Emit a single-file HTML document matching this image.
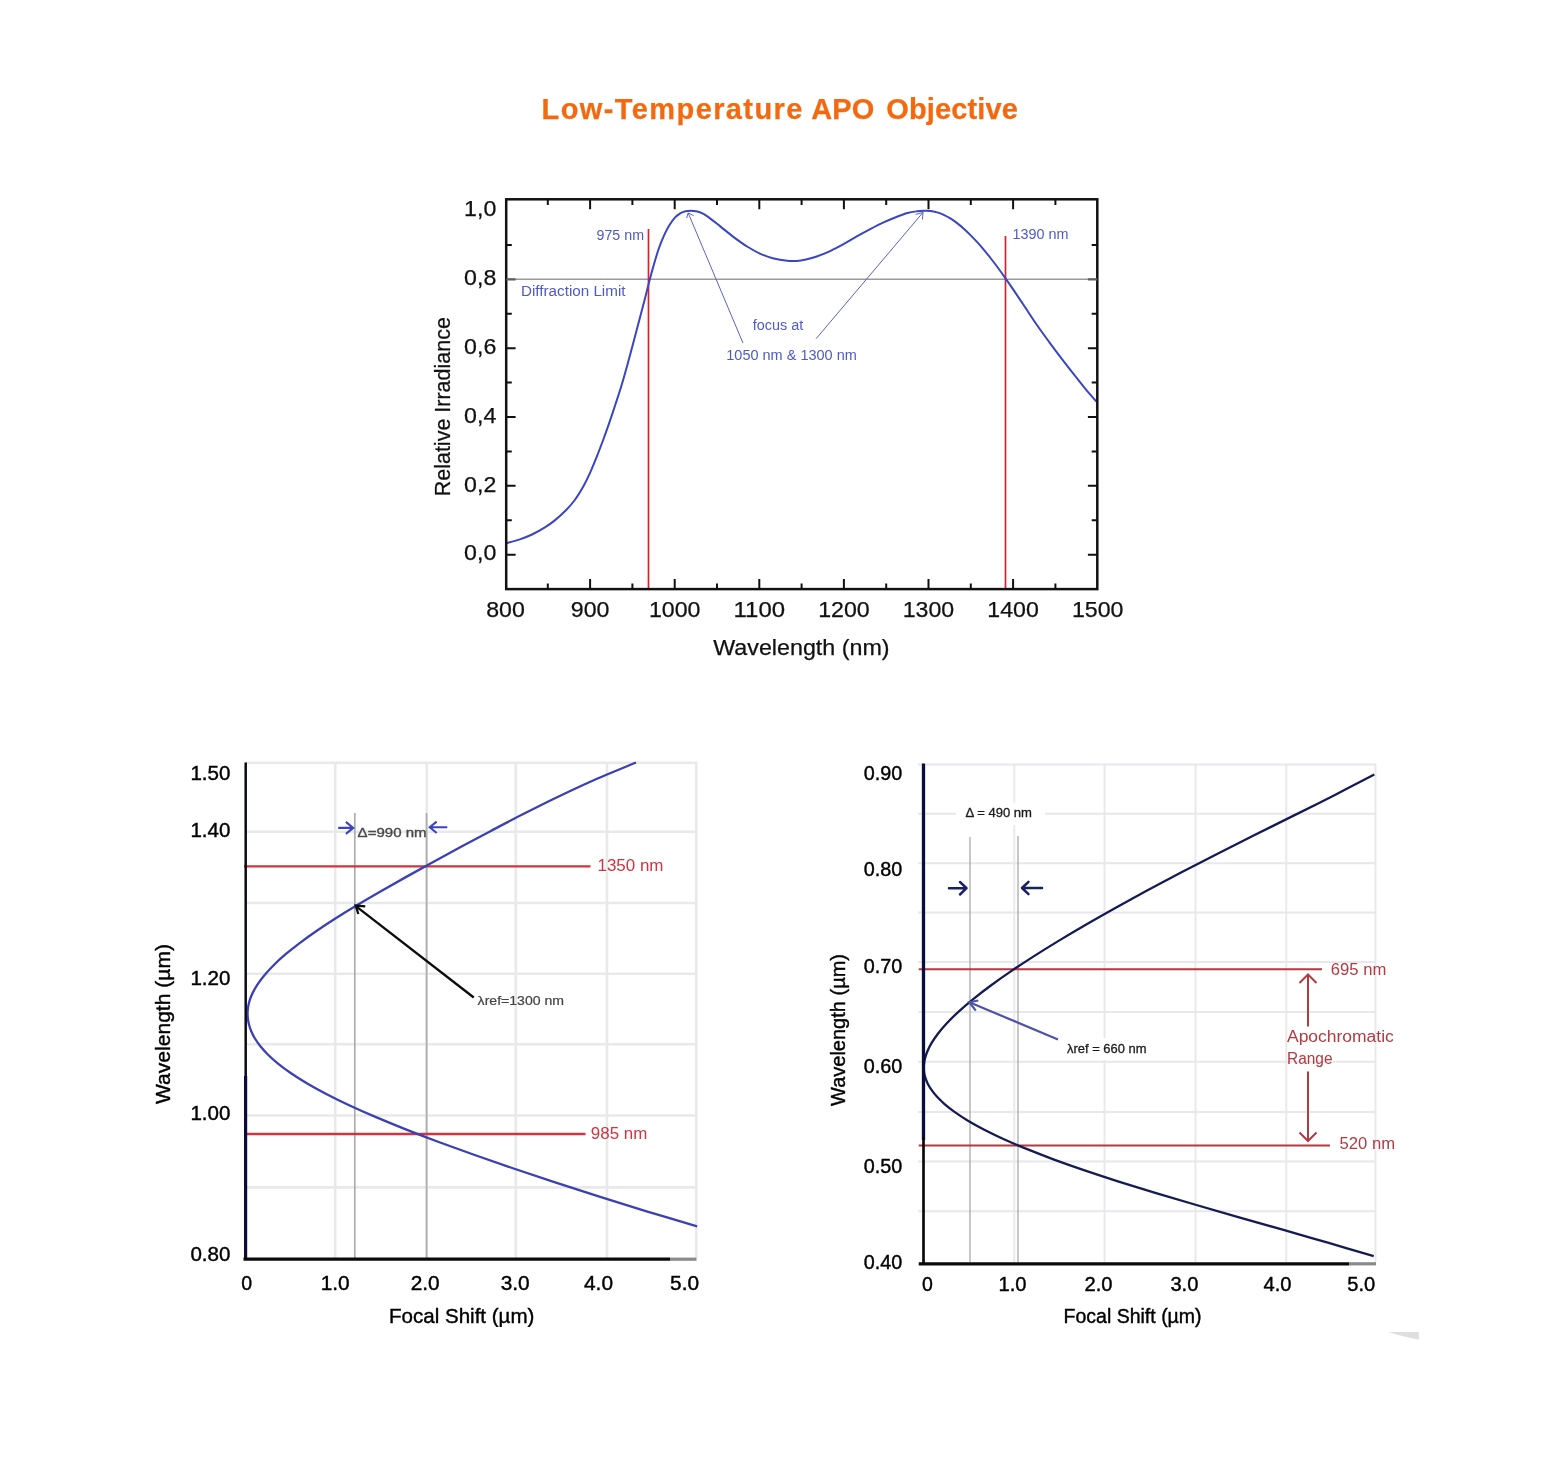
<!DOCTYPE html>
<html lang="en">
<head>
<meta charset="utf-8">
<title>Low-Temperature APO Objective</title>
<style>
html,body{margin:0;padding:0;background:#fff;}
body{width:1560px;height:1459px;position:relative;overflow:hidden;font-family:'Liberation Sans',sans-serif;}
h1.title{position:absolute;left:0;top:87px;width:1560px;height:44px;margin:0;font-size:29px;line-height:44px;font-weight:bold;color:#f4690f;white-space:nowrap;-webkit-text-stroke:0.25px #f4690f;}
h1.title span{position:absolute;top:0;}
h1.title .w1{left:541.6px;letter-spacing:1.4px;}
h1.title .w2{left:811.2px;letter-spacing:0.15px;}
h1.title .w3{left:886.3px;letter-spacing:0.12px;}
svg{position:absolute;display:block;overflow:visible;}
svg text{font-family:'Liberation Sans',sans-serif;}
.ax{font-size:21.3px;fill:#111;stroke:#111;stroke-width:0.25px;}
.bl{fill:#4f5ac4;font-size:13.8px;}
.cal{font-size:19.5px;fill:#000;stroke:#000;stroke-width:0.4px;}
svg.soft{filter:blur(0.5px);}
</style>
</head>
<body>
<h1 class="title"><span class="w1">Low-Temperature </span><span class="w2">APO </span><span class="w3">Objective</span></h1>

<svg id="chart-top" style="left:400px;top:170px" width="760" height="510" viewBox="400 170 760 510">
<line x1="506.2" y1="279.3" x2="1097.3" y2="279.3" stroke="#9a9a9a" stroke-width="1.6"/>
<line x1="648.5" y1="229" x2="648.5" y2="589.1" stroke="#d8222b" stroke-width="1.7"/>
<line x1="1005.5" y1="236" x2="1005.5" y2="589.1" stroke="#d8222b" stroke-width="1.7"/>
<path d="M506.40 543.10 C508.53 542.52 514.93 541.03 519.20 539.60 C523.48 538.17 527.77 536.53 532.05 534.50 C536.33 532.47 541.06 529.80 544.90 527.40 C548.74 525.00 551.68 522.87 555.10 520.10 C558.52 517.33 562.18 514.07 565.40 510.80 C568.62 507.53 571.42 504.57 574.40 500.50 C577.38 496.43 580.75 490.88 583.30 486.40 C585.85 481.92 587.55 478.30 589.70 473.60 C591.85 468.90 594.05 463.55 596.20 458.20 C598.35 452.85 600.47 447.27 602.60 441.50 C604.73 435.73 606.87 429.77 609.00 423.60 C611.13 417.43 613.32 410.85 615.40 404.50 C617.48 398.15 619.48 392.17 621.50 385.50 C623.52 378.83 625.52 371.67 627.50 364.50 C629.48 357.33 631.30 350.42 633.40 342.50 C635.50 334.58 638.08 324.65 640.10 317.00 C642.12 309.35 644.02 302.35 645.50 296.60 C646.98 290.85 647.67 287.62 649.00 282.50 C650.33 277.38 651.87 271.57 653.50 265.90 C655.13 260.23 657.02 253.63 658.80 248.50 C660.58 243.37 662.42 239.00 664.20 235.10 C665.98 231.20 667.72 228.00 669.50 225.10 C671.28 222.20 673.12 219.65 674.90 217.70 C676.68 215.75 678.42 214.47 680.20 213.40 C681.98 212.33 683.82 211.73 685.60 211.30 C687.38 210.87 689.12 210.80 690.90 210.80 C692.68 210.80 694.30 210.82 696.30 211.30 C698.30 211.78 700.45 212.40 702.90 213.70 C705.35 215.00 708.10 216.98 711.00 219.10 C713.90 221.22 716.52 223.40 720.30 226.40 C724.08 229.40 729.23 233.75 733.70 237.10 C738.17 240.45 742.65 243.72 747.10 246.50 C751.55 249.28 755.95 251.80 760.40 253.80 C764.85 255.80 769.33 257.33 773.80 258.50 C778.27 259.67 783.38 260.40 787.20 260.80 C791.02 261.20 793.57 261.13 796.70 260.90 C799.83 260.67 802.67 260.13 806.00 259.40 C809.33 258.67 812.68 257.88 816.70 256.50 C820.72 255.12 825.63 253.15 830.10 251.10 C834.57 249.05 839.05 246.65 843.50 244.20 C847.95 241.75 852.35 238.92 856.80 236.40 C861.25 233.88 865.73 231.43 870.20 229.10 C874.67 226.77 879.13 224.47 883.60 222.40 C888.07 220.33 893.00 218.27 897.00 216.70 C901.00 215.13 904.27 213.90 907.60 213.00 C910.93 212.10 914.32 211.67 917.00 211.30 C919.68 210.93 921.47 210.85 923.70 210.80 C925.93 210.75 928.17 210.73 930.40 211.00 C932.63 211.27 934.88 211.77 937.10 212.40 C939.32 213.03 941.48 213.80 943.70 214.80 C945.92 215.80 948.17 217.02 950.40 218.40 C952.63 219.78 954.87 221.38 957.10 223.10 C959.33 224.82 961.57 226.70 963.80 228.70 C966.03 230.70 968.27 232.85 970.50 235.10 C972.73 237.35 974.97 239.75 977.20 242.20 C979.43 244.65 981.68 247.17 983.90 249.80 C986.12 252.43 988.32 255.22 990.50 258.00 C992.68 260.78 994.50 263.12 997.00 266.50 C999.50 269.88 1002.67 274.28 1005.50 278.30 C1008.33 282.32 1010.78 285.85 1014.00 290.60 C1017.22 295.35 1020.95 301.02 1024.80 306.80 C1028.65 312.58 1033.00 319.38 1037.10 325.30 C1041.20 331.22 1045.28 336.72 1049.40 342.30 C1053.52 347.88 1057.68 353.42 1061.80 358.80 C1065.92 364.18 1070.00 369.38 1074.10 374.60 C1078.20 379.82 1082.67 385.60 1086.40 390.10 C1090.13 394.60 1094.82 399.68 1096.50 401.60" fill="none" stroke="#3a45c2" stroke-width="2" stroke-linejoin="round"/>
<g stroke="#5a63c4" stroke-width="1" fill="none">
<line x1="743" y1="343.1" x2="688.2" y2="213"/><path d="M686.7 218 L688.2 213 L693.6 215.6"/>
<line x1="816.1" y1="338.7" x2="923" y2="212.4"/><path d="M915.7 214.4 L923 212.4 L922.4 219.5"/>
</g>
<rect x="506.2" y="199.3" width="591.1" height="389.8" fill="none" stroke="#111" stroke-width="2.5"/>
<path d="M547.80 199.3v5.6 M547.80 589.1v-5.6 M590.10 199.3v10 M590.10 589.1v-10 M632.40 199.3v5.6 M632.40 589.1v-5.6 M674.70 199.3v10 M674.70 589.1v-10 M717.00 199.3v5.6 M717.00 589.1v-5.6 M759.30 199.3v10 M759.30 589.1v-10 M801.60 199.3v5.6 M801.60 589.1v-5.6 M843.90 199.3v10 M843.90 589.1v-10 M886.20 199.3v5.6 M886.20 589.1v-5.6 M928.50 199.3v10 M928.50 589.1v-10 M970.80 199.3v5.6 M970.80 589.1v-5.6 M1013.10 199.3v10 M1013.10 589.1v-10 M1055.40 199.3v5.6 M1055.40 589.1v-5.6 M506.2 554.70h9.4 M1097.3 554.70h-9.4 M506.2 520.28h5.6 M1097.3 520.28h-5.6 M506.2 485.85h9.4 M1097.3 485.85h-9.4 M506.2 451.43h5.6 M1097.3 451.43h-5.6 M506.2 417.00h9.4 M1097.3 417.00h-9.4 M506.2 382.58h5.6 M1097.3 382.58h-5.6 M506.2 348.15h9.4 M1097.3 348.15h-9.4 M506.2 313.73h5.6 M1097.3 313.73h-5.6 M506.2 244.88h5.6 M1097.3 244.88h-5.6" stroke="#111" stroke-width="2" fill="none"/>
<path d="M506.2 279.3h9.4 M1097.3 279.3h-9.4" stroke="#5e5e5e" stroke-width="2.2" fill="none"/>
<g class="ax" text-anchor="end">
<text x="496.3" y="560.4" textLength="32.2" lengthAdjust="spacingAndGlyphs">0,0</text>
<text x="496.3" y="491.6" textLength="32.2" lengthAdjust="spacingAndGlyphs">0,2</text>
<text x="496.3" y="422.7" textLength="32.2" lengthAdjust="spacingAndGlyphs">0,4</text>
<text x="496.3" y="353.8" textLength="32.2" lengthAdjust="spacingAndGlyphs">0,6</text>
<text x="496.3" y="285.0" textLength="32.2" lengthAdjust="spacingAndGlyphs">0,8</text>
<text x="496.3" y="216.2" textLength="32.2" lengthAdjust="spacingAndGlyphs">1,0</text>
</g>
<g class="ax" text-anchor="middle">
<text x="505.5" y="616.9" textLength="38.6" lengthAdjust="spacingAndGlyphs">800</text>
<text x="590.1" y="616.9" textLength="38.6" lengthAdjust="spacingAndGlyphs">900</text>
<text x="674.7" y="616.9" textLength="51.5" lengthAdjust="spacingAndGlyphs">1000</text>
<text x="759.3" y="616.9" textLength="51.5" lengthAdjust="spacingAndGlyphs">1100</text>
<text x="843.9" y="616.9" textLength="51.5" lengthAdjust="spacingAndGlyphs">1200</text>
<text x="928.5" y="616.9" textLength="51.5" lengthAdjust="spacingAndGlyphs">1300</text>
<text x="1013.1" y="616.9" textLength="51.5" lengthAdjust="spacingAndGlyphs">1400</text>
<text x="1097.7" y="616.9" textLength="51.5" lengthAdjust="spacingAndGlyphs">1500</text>
<text x="801.4" y="655" textLength="176.3" lengthAdjust="spacingAndGlyphs">Wavelength (nm)</text>
<text transform="translate(450,406.7) rotate(-90)" style="font-size:21.5px">Relative Irradiance</text>
</g>
<g class="bl">
<text x="596.5" y="239.6" textLength="47.5" lengthAdjust="spacingAndGlyphs">975 nm</text>
<text x="1012.6" y="239" textLength="56" lengthAdjust="spacingAndGlyphs">1390 nm</text>
<text x="521" y="296" textLength="104.5" lengthAdjust="spacingAndGlyphs">Diffraction Limit</text>
<text x="752.7" y="330.2" textLength="50.5" lengthAdjust="spacingAndGlyphs">focus at</text>
<text x="726.3" y="359.8" textLength="130.5" lengthAdjust="spacingAndGlyphs">1050 nm &amp; 1300 nm</text>
</g>
</svg>
<svg id="chart-left" class="soft" style="left:130px;top:740px" width="620" height="620" viewBox="130 740 620 620">
<path d="M335.20 762.5V1258 M426.75 762.5V1258 M515.75 762.5V1258 M607.00 762.5V1258 M696.25 762.5V1258 M245.5 762.80H697.3 M245.5 831.80H697.3 M245.5 903.00H697.3 M245.5 973.70H697.3 M245.5 1044.20H697.3 M245.5 1115.50H697.3 M245.5 1187.40H697.3" stroke="#e9e9e9" stroke-width="2.6" fill="none"/>
<path d="M354.8 813V1258 M426.6 813V1258" stroke="#adadad" stroke-width="1.7" fill="none"/>
<path d="M244 866.4H590.5 M244 1134H585.5" stroke="#d2333f" stroke-width="2.3" fill="none"/>
<path d="M635.96 762.50 C628.92 765.45 606.92 774.38 593.68 780.21 C580.45 786.04 568.36 791.81 556.54 797.49 C544.72 803.17 533.66 808.78 522.79 814.32 C511.92 819.85 501.54 825.31 491.33 830.68 C481.12 836.06 471.24 841.36 461.55 846.57 C451.87 851.79 442.42 856.93 433.20 861.98 C423.99 867.03 414.99 871.99 406.27 876.87 C397.55 881.75 389.06 886.55 380.90 891.25 C372.74 895.95 364.84 900.56 357.32 905.08 C349.79 909.59 342.57 914.02 335.77 918.34 C328.96 922.67 322.51 926.90 316.49 931.02 C310.47 935.14 304.83 939.17 299.65 943.08 C294.46 946.99 289.69 950.80 285.36 954.48 C281.02 958.17 277.13 961.75 273.64 965.20 C270.15 968.64 267.11 971.98 264.43 975.17 C261.75 978.36 259.50 981.43 257.56 984.34 C255.62 987.25 254.09 990.03 252.80 992.63 C251.51 995.24 250.58 997.70 249.83 999.95 C249.07 1002.20 248.63 1004.30 248.27 1006.12 C247.91 1007.95 247.80 1009.66 247.68 1010.89 C247.57 1012.12 247.60 1012.70 247.60 1013.50 C247.60 1014.30 247.58 1014.67 247.65 1015.71 C247.73 1016.75 247.80 1018.21 248.04 1019.75 C248.29 1021.30 248.58 1023.08 249.11 1024.99 C249.65 1026.90 250.29 1028.98 251.24 1031.19 C252.19 1033.40 253.31 1035.75 254.80 1038.22 C256.30 1040.69 258.03 1043.29 260.20 1046.00 C262.37 1048.70 264.84 1051.53 267.81 1054.45 C270.77 1057.38 274.11 1060.41 277.98 1063.54 C281.85 1066.66 286.16 1069.89 291.03 1073.20 C295.91 1076.52 301.28 1079.93 307.22 1083.43 C313.17 1086.92 319.66 1090.51 326.73 1094.17 C333.81 1097.84 341.45 1101.59 349.66 1105.42 C357.88 1109.25 366.67 1113.16 376.02 1117.15 C385.37 1121.13 395.30 1125.20 405.75 1129.33 C416.20 1133.47 427.21 1137.68 438.71 1141.96 C450.20 1146.24 462.24 1150.60 474.71 1155.02 C487.19 1159.44 500.17 1163.94 513.58 1168.49 C526.99 1173.05 540.85 1177.68 555.16 1182.37 C569.47 1187.06 584.20 1191.82 599.43 1196.64 C614.67 1201.45 630.30 1206.34 646.58 1211.28 C662.87 1216.23 688.70 1223.80 697.12 1226.30" fill="none" stroke="#3b40b4" stroke-width="2.3"/>
<path d="M245.7 762.5V1260" stroke="#0a0a14" stroke-width="2.5" fill="none"/>
<path d="M245.6 1076V1260" stroke="#0b0b3a" stroke-width="3.2" fill="none"/>
<path d="M243.5 1259.2H670" stroke="#0a0a0a" stroke-width="3.2" fill="none"/>
<path d="M670 1259.2H696.5" stroke="#8a8a8a" stroke-width="3.2" fill="none"/>
<g stroke="#0c0c0c" stroke-width="2.3" fill="none"><line x1="473.75" y1="997.5" x2="356.5" y2="906.6"/><path d="M358.3 914 L355.7 905.5 L365.3 906.3"/></g>
<g stroke="#3b43c2" stroke-width="2.1" fill="none" stroke-linejoin="miter"><path d="M338.2 827.9H352.6 M345.9 821.9L353.2 827.9L345.9 833.9"/><path d="M447.3 827.3H430.3 M436.7 821.6L429.7 827.3L436.7 833"/></g>
<g class="cal" text-anchor="end">
<text x="230.4" y="779.6" textLength="40" lengthAdjust="spacingAndGlyphs">1.50</text>
<text x="230.4" y="837.2" textLength="40" lengthAdjust="spacingAndGlyphs">1.40</text>
<text x="230.4" y="984.5" textLength="40" lengthAdjust="spacingAndGlyphs">1.20</text>
<text x="230.4" y="1119.5" textLength="40" lengthAdjust="spacingAndGlyphs">1.00</text>
<text x="230.4" y="1260.8" textLength="40" lengthAdjust="spacingAndGlyphs">0.80</text>
</g>
<g class="cal" text-anchor="middle">
<text x="246.8" y="1290">0</text>
<text x="335.2" y="1290" textLength="29" lengthAdjust="spacingAndGlyphs">1.0</text>
<text x="425.2" y="1290" textLength="29" lengthAdjust="spacingAndGlyphs">2.0</text>
<text x="515.2" y="1290" textLength="29" lengthAdjust="spacingAndGlyphs">3.0</text>
<text x="598.5" y="1290" textLength="29" lengthAdjust="spacingAndGlyphs">4.0</text>
<text x="684.6" y="1290" textLength="29" lengthAdjust="spacingAndGlyphs">5.0</text>
<text x="461.7" y="1322.5" textLength="145.5" lengthAdjust="spacingAndGlyphs" style="font-size:20.3px">Focal Shift (µm)</text>
<text transform="translate(169.6,1024) rotate(-90)" textLength="160" lengthAdjust="spacingAndGlyphs" style="font-size:20.3px">Wavelength (µm)</text>
</g>
<text x="597.5" y="870.5" textLength="66" lengthAdjust="spacingAndGlyphs" style="font-size:16px;fill:#d2333f">1350 nm</text>
<text x="590.8" y="1139.3" textLength="56.5" lengthAdjust="spacingAndGlyphs" style="font-size:16px;fill:#d2333f">985 nm</text>
<text x="357.6" y="836.6" textLength="69" lengthAdjust="spacingAndGlyphs" style="font-size:13.6px;fill:#484848;stroke:#484848;stroke-width:0.35px">Δ=990 nm</text>
<text x="477.6" y="1004.5" textLength="86.5" lengthAdjust="spacingAndGlyphs" style="font-size:12.5px;fill:#444;stroke:#444;stroke-width:0.2px">λref=1300 nm</text>
</svg>
<svg id="chart-right" class="soft" style="left:810px;top:740px" width="640" height="620" viewBox="810 740 640 620">
<path d="M1014.25 764V1262 M1104.50 764V1262 M1195.50 764V1262 M1286.25 764V1262 M1375.50 764V1262 M918 764.50H1376 M918 813.75H1376 M918 863.25H1376 M918 912.50H1376 M918 962.00H1376 M918 1012.00H1376 M918 1061.70H1376 M918 1112.00H1376 M918 1161.50H1376 M918 1211.30H1376" stroke="#e8e8ec" stroke-width="1.9" fill="none"/>
<path d="M970 837V1262 M1018 836V1262" stroke="#a6a6a6" stroke-width="1.25" fill="none"/>
<rect x="956" y="802.5" width="89" height="22.5" fill="#fff"/>
<rect x="1060" y="1038" width="92" height="22" fill="#fff"/>
<path d="M918.75 969.25H1322 M918.75 1145.5H1330" stroke="#b23a40" stroke-width="2" fill="none"/>
<path d="M1374.31 774.50 C1367.66 777.95 1347.78 788.38 1334.41 795.20 C1321.04 802.01 1307.41 808.74 1294.10 815.39 C1280.80 822.03 1267.51 828.58 1254.59 835.05 C1241.67 841.51 1228.95 847.89 1216.60 854.17 C1204.26 860.46 1192.21 866.65 1180.54 872.74 C1168.87 878.84 1157.54 884.84 1146.60 890.74 C1135.65 896.64 1125.06 902.45 1114.86 908.15 C1104.65 913.85 1094.82 919.45 1085.36 924.94 C1075.91 930.44 1066.83 935.83 1058.15 941.11 C1049.47 946.38 1041.16 951.56 1033.27 956.61 C1025.38 961.66 1017.87 966.60 1010.81 971.42 C1003.74 976.24 997.07 980.94 990.86 985.51 C984.65 990.08 978.86 994.53 973.54 998.84 C968.21 1003.14 963.34 1007.33 958.92 1011.35 C954.51 1015.38 950.56 1019.28 947.06 1023.01 C943.55 1026.74 940.53 1030.32 937.91 1033.72 C935.29 1037.13 933.14 1040.38 931.34 1043.42 C929.54 1046.46 928.20 1049.34 927.11 1051.96 C926.02 1054.59 925.34 1057.05 924.81 1059.18 C924.28 1061.31 924.10 1063.32 923.93 1064.75 C923.76 1066.19 923.81 1066.97 923.80 1067.80 C923.79 1068.63 923.78 1068.83 923.86 1069.76 C923.94 1070.68 924.02 1071.97 924.27 1073.34 C924.53 1074.71 924.85 1076.29 925.41 1077.97 C925.97 1079.66 926.65 1081.51 927.63 1083.46 C928.62 1085.41 929.78 1087.50 931.32 1089.69 C932.85 1091.87 934.63 1094.18 936.84 1096.57 C939.05 1098.97 941.56 1101.47 944.56 1104.06 C947.56 1106.65 950.93 1109.33 954.83 1112.10 C958.73 1114.87 963.06 1117.72 967.97 1120.66 C972.87 1123.59 978.27 1126.61 984.26 1129.71 C990.26 1132.80 996.80 1135.98 1003.95 1139.22 C1011.11 1142.47 1018.84 1145.79 1027.20 1149.18 C1035.55 1152.57 1044.52 1156.03 1054.09 1159.56 C1063.66 1163.09 1073.86 1166.69 1084.63 1170.35 C1095.40 1174.01 1106.80 1177.74 1118.71 1181.53 C1130.62 1185.32 1143.14 1189.18 1156.09 1193.09 C1169.03 1197.01 1182.55 1200.99 1196.39 1205.02 C1210.22 1209.06 1224.57 1213.15 1239.08 1217.31 C1253.60 1221.46 1268.55 1225.67 1283.49 1229.94 C1298.42 1234.20 1313.68 1238.53 1328.72 1242.90 C1343.76 1247.28 1366.23 1253.98 1373.73 1256.20" fill="none" stroke="#141b52" stroke-width="2.3"/>
<g stroke="#4d54a8" stroke-width="2.2" fill="none"><line x1="1058" y1="1039.5" x2="970" y2="1002.5"/><path d="M975.8 1010.7 L969.3 1002.2 L978.3 1000.5"/></g>
<path d="M923.5 763.5V1140" stroke="#0a0e3c" stroke-width="3.3" fill="none"/>
<path d="M923.5 1138V1264" stroke="#0a0a0a" stroke-width="2.7" fill="none"/>
<path d="M918.75 1263.8H1349" stroke="#0a0a0a" stroke-width="3.2" fill="none"/>
<path d="M1349 1263.8H1376" stroke="#8a8a8a" stroke-width="3.2" fill="none"/>
<g stroke="#17215f" stroke-width="2.5" fill="none" stroke-linecap="round" stroke-linejoin="round"><path d="M949 888.2H966.5 M960 882L966.5 888.2L960 894.5"/><path d="M1042 888H1022 M1028.5 881.8L1022 888L1028.5 894.2"/></g>
<g stroke="#b23a40" stroke-width="2" fill="none"><path d="M1308 1026.5V974.5 M1299.5 983L1308 974.5L1316.5 983"/><path d="M1308 1071.5V1141 M1299.5 1132.5L1308 1141L1316.5 1132.5"/></g>
<g class="cal" text-anchor="end">
<text x="902.2" y="780.0" textLength="38.5" lengthAdjust="spacingAndGlyphs">0.90</text>
<text x="902.2" y="876.3" textLength="38.5" lengthAdjust="spacingAndGlyphs">0.80</text>
<text x="902.2" y="973.3" textLength="38.5" lengthAdjust="spacingAndGlyphs">0.70</text>
<text x="902.2" y="1072.5" textLength="38.5" lengthAdjust="spacingAndGlyphs">0.60</text>
<text x="902.2" y="1172.5" textLength="38.5" lengthAdjust="spacingAndGlyphs">0.50</text>
<text x="902.2" y="1269.4" textLength="38.5" lengthAdjust="spacingAndGlyphs">0.40</text>
</g>
<g class="cal" text-anchor="middle">
<text x="927.5" y="1291.3">0</text>
<text x="1012.5" y="1291.3" textLength="28" lengthAdjust="spacingAndGlyphs">1.0</text>
<text x="1098.5" y="1291.3" textLength="28" lengthAdjust="spacingAndGlyphs">2.0</text>
<text x="1184.4" y="1291.3" textLength="28" lengthAdjust="spacingAndGlyphs">3.0</text>
<text x="1277.5" y="1291.3" textLength="28" lengthAdjust="spacingAndGlyphs">4.0</text>
<text x="1361.3" y="1291.3" textLength="28" lengthAdjust="spacingAndGlyphs">5.0</text>
<text x="1132.6" y="1323" textLength="138" lengthAdjust="spacingAndGlyphs" style="font-size:19.6px">Focal Shift (µm)</text>
<text transform="translate(845.2,1030) rotate(-90)" textLength="152" lengthAdjust="spacingAndGlyphs" style="font-size:19.6px">Wavelength (µm)</text>
</g>
<g style="font-size:16px;fill:#b23a40">
<text x="1330.8" y="975" textLength="55.5" lengthAdjust="spacingAndGlyphs">695 nm</text>
<text x="1339.5" y="1148.8" textLength="55.5" lengthAdjust="spacingAndGlyphs">520 nm</text>
<text x="1287" y="1042" textLength="106.8" lengthAdjust="spacingAndGlyphs">Apochromatic</text>
<text x="1287" y="1064.3" textLength="45.5" lengthAdjust="spacingAndGlyphs">Range</text>
</g>
<text x="965.5" y="817" textLength="66.5" lengthAdjust="spacingAndGlyphs" style="font-size:12.8px;fill:#1c1c1c;stroke:#1c1c1c;stroke-width:0.3px">Δ = 490 nm</text>
<text x="1067" y="1052.7" textLength="79.5" lengthAdjust="spacingAndGlyphs" style="font-size:12.8px;fill:#1c1c1c;stroke:#1c1c1c;stroke-width:0.3px">λref = 660 nm</text>
<path d="M1388 1332 L1418.8 1332 L1418.8 1339.8 Q1404 1337 1388 1332Z" fill="#dedede"/>
</svg>
</body>
</html>
